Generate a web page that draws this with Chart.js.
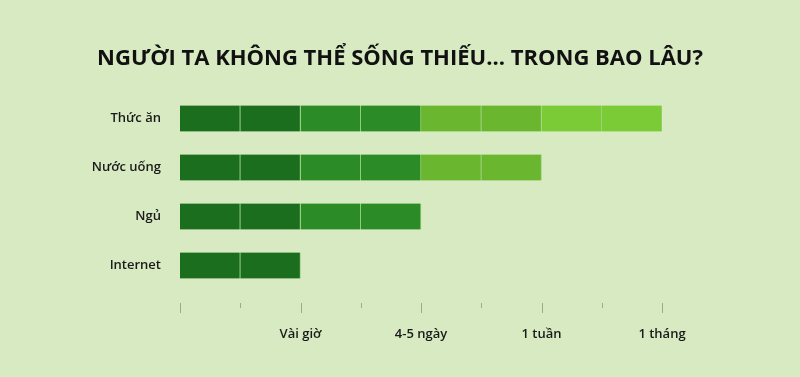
<!DOCTYPE html>
<html><head><meta charset="utf-8">
<script src="https://cdn.jsdelivr.net/npm/chart.js@4/dist/chart.umd.min.js"></script>
<style>
html,body{margin:0;padding:0;background:#d7eac1;}
#wrap{width:800px;height:377px;}
</style></head>
<body><div id="wrap"><canvas id="c" width="800" height="377"></canvas></div>
<script>
const categories = ['Thức ăn', 'Nước uống', 'Ngủ', 'Internet'];
const durations = [8, 6, 4, 2];
const tickLabels = ['', '', 'Vài giờ', '', '4-5 ngày', '', '1 tuần', '', '1 tháng'];
const segmentColors = ['#1c6e1f', '#1c6e1f', '#2b8b26', '#2b8b26', '#6ab72f', '#6ab72f', '#7bcb37', '#7bcb37'];
const titleText = 'NGƯỜI TA KHÔNG THỂ SỐNG THIẾU... TRONG BAO LÂU?';

const datasets = segmentColors.map((col, i) => ({
  data: durations.map(d => (i < d ? 1 : null)),
  backgroundColor: col,
  borderColor: '#9fd27e',
  borderWidth: {left: 0, right: 1, top: 0, bottom: 0},
  borderSkipped: false,
  barThickness: 26
}));

const decorPlugin = {
  id: 'decor',
  afterDraw(chart) {
    const ctx = chart.ctx, xs = chart.scales.x;
    ctx.save();
    ctx.fillStyle = '#111';
    ctx.font = 'bold 22px "Open Sans"';
    ctx.textAlign = 'center';
    ctx.textBaseline = 'middle';
    ctx.fillText(titleText, chart.width / 2, 59);
    ctx.strokeStyle = '#9aab8e';
    ctx.lineWidth = 1;
    for (let v = 0; v < tickLabels.length; v++) {
      const x = Math.round(xs.getPixelForValue(v)) + 0.5;
      const len = v % 2 === 0 ? 10 : 5;
      ctx.beginPath();
      ctx.moveTo(x, 303);
      ctx.lineTo(x, 303 + len);
      ctx.stroke();
    }
    ctx.restore();
  }
};

new Chart(document.getElementById('c'), {
  type: 'bar',
  data: { labels: categories, datasets },
  options: {
    indexAxis: 'y',
    responsive: false,
    animation: false,
    layout: { padding: { left: 0, right: 138, top: 94, bottom: 0 } },
    plugins: {
      legend: { display: false },
      tooltip: { enabled: false },
      title: { display: false }
    },
    scales: {
      x: {
        stacked: true,
        min: 0, max: 8,
        grid: { display: false, drawTicks: false },
        border: { display: false },
        afterFit(s) { s.height = 87; },
        ticks: {
          stepSize: 1,
          autoSkip: false,
          maxRotation: 0,
          padding: 36,
          color: '#1a1a1a',
          font: { family: 'Open Sans', size: 13, weight: '600' },
          callback: (v) => tickLabels[v] || ''
        }
      },
      y: {
        stacked: true,
        grid: { display: false, drawTicks: false },
        border: { display: false },
        afterFit(s) { s.width = 180; },
        ticks: {
          padding: 19,
          color: '#1a1a1a',
          font: { family: 'Open Sans', size: 13, weight: '600' }
        }
      }
    }
  },
  plugins: [decorPlugin]
});
</script></body></html>
